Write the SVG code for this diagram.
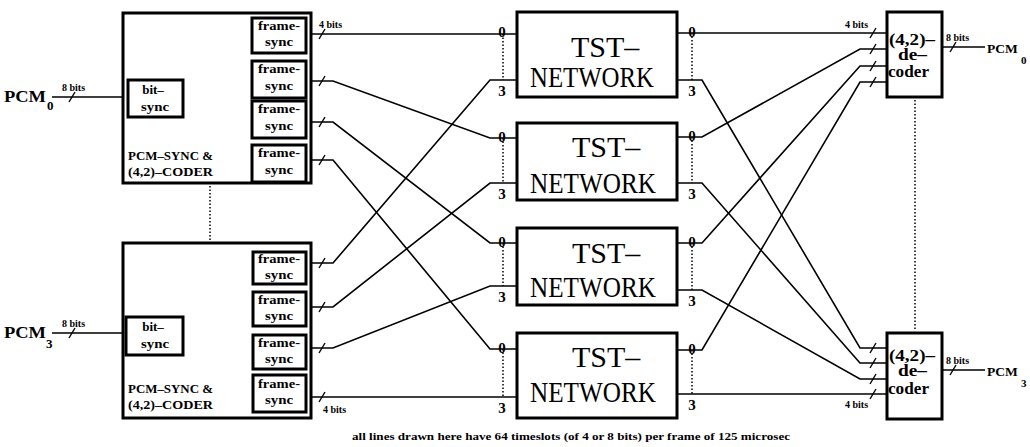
<svg xmlns="http://www.w3.org/2000/svg" width="1030" height="447" viewBox="0 0 1030 447">
<style>
.bx{fill:#fff;stroke:#000;stroke-width:3}
.w{fill:none;stroke:#000;stroke-width:1.6}
.dt{fill:none;stroke:#000;stroke-width:1.5;stroke-dasharray:1.5 2}
.sl{stroke:#000;stroke-width:1.4}
.t{font-family:"Liberation Serif",serif;font-weight:bold;fill:#000}
.s{font-size:10px}
.f{font-size:13px}
.m{font-size:13px}
.d{font-size:16px}
.n{font-size:15px}
.p{font-size:16px}
.po{font-size:13.5px}
.sub{font-size:11px}
.big{font-family:"Liberation Serif",serif;font-size:30px;fill:#000}
</style>
<rect width="1030" height="447" fill="#fff"/>

<g id="connectors">
  <path class="w" d="M52 97H128M183 97H226M226 33V160M226 33H252M226 81H252M226 122H252M226 160H252"/>
  <path class="w" d="M52 333H128M183 333H225M225 263V397M225 263H252M225 307H252M225 348H252M225 397H252"/>
  <path class="w" d="M306 34H517"/>
  <path class="w" d="M306 81H333L490 138H517"/>
  <path class="w" d="M306 122H333L490 243H517"/>
  <path class="w" d="M306 160H333L490 349H517"/>
  <path class="w" d="M306 263H333L490 80H517"/>
  <path class="w" d="M306 307H333L490 183H517"/>
  <path class="w" d="M306 348H333L490 286H517"/>
  <path class="w" d="M306 397H517"/>
  <path class="w" d="M677 33H887"/>
  <path class="w" d="M677 80H702L860 348H887"/>
  <path class="w" d="M677 137H702L860 49H887"/>
  <path class="w" d="M677 183H702L860 363H887"/>
  <path class="w" d="M677 243H702L860 66H887"/>
  <path class="w" d="M677 290H702L860 379H887"/>
  <path class="w" d="M677 350H702L860 82H887"/>
  <path class="w" d="M677 394H887"/>
  <path class="w" d="M942 47H985M942 370H985"/>
  <g class="sl">
    <line x1="69" y1="102" x2="75" y2="92"/>
    <line x1="194" y1="102" x2="200" y2="92"/>
    <line x1="69" y1="338" x2="75" y2="328"/>
    <line x1="194" y1="338" x2="200" y2="328"/>
    <line x1="319" y1="39" x2="325" y2="29"/>
    <line x1="319" y1="86" x2="325" y2="76"/>
    <line x1="319" y1="127" x2="325" y2="117"/>
    <line x1="319" y1="165" x2="325" y2="155"/>
    <line x1="319" y1="268" x2="325" y2="258"/>
    <line x1="319" y1="312" x2="325" y2="302"/>
    <line x1="319" y1="353" x2="325" y2="343"/>
    <line x1="319" y1="402" x2="325" y2="392"/>
    <line x1="870" y1="38" x2="876" y2="28"/>
    <line x1="870" y1="54" x2="876" y2="44"/>
    <line x1="870" y1="71" x2="876" y2="61"/>
    <line x1="870" y1="87" x2="876" y2="77"/>
    <line x1="870" y1="353" x2="876" y2="343"/>
    <line x1="870" y1="368" x2="876" y2="358"/>
    <line x1="870" y1="384" x2="876" y2="374"/>
    <line x1="870" y1="399" x2="876" y2="389"/>
    <line x1="950" y1="52" x2="956" y2="42"/>
    <line x1="950" y1="375" x2="956" y2="365"/>
  </g>
  <path class="dt" d="M210 186V241M915 100V330M503 34V80M503 138V183M503 243V286M503 349V397M692 33V80M692 137V183M692 243V290M692 350V394"/>
  <text class="t s" x="62" y="91">8 bits</text>
  <text class="t s" x="188" y="91">8 bits</text>
  <text class="t s" x="62" y="327">8 bits</text>
  <text class="t s" x="188" y="327">8 bits</text>
  <text class="t s" x="319" y="28">4 bits</text>
  <text class="t s" x="323" y="413">4 bits</text>
  <text class="t s" x="845" y="28">4 bits</text>
  <text class="t s" x="845" y="408">4 bits</text>
  <text class="t s" x="946" y="41">8 bits</text>
  <text class="t s" x="946" y="364">8 bits</text>
  <g class="t n" text-anchor="middle">
    <text x="502" y="37">0</text><text x="502" y="96">3</text>
    <text x="502" y="142">0</text><text x="502" y="199">3</text>
    <text x="502" y="247">0</text><text x="502" y="302">3</text>
    <text x="502" y="353">0</text><text x="502" y="413">3</text>
    <text x="692" y="37">0</text><text x="692" y="96">3</text>
    <text x="692" y="141">0</text><text x="692" y="199">3</text>
    <text x="692" y="247">0</text><text x="692" y="306">3</text>
    <text x="692" y="354">0</text><text x="692" y="410">3</text>
  </g>
</g>

<g id="pcm0-in">
  <text class="t p" x="4" y="102" textLength="42" lengthAdjust="spacingAndGlyphs">PCM</text>
  <text class="t f" x="47" y="110">0</text>
</g>
<g id="pcm3-in">
  <text class="t p" x="4" y="338" textLength="42" lengthAdjust="spacingAndGlyphs">PCM</text>
  <text class="t f" x="46" y="348">3</text>
</g>

<g id="coder0">
  <rect class="bx" x="123" y="13" width="188" height="170"/>
  <rect class="bx" x="128" y="80" width="55" height="37"/>
  <text class="t f" x="153" y="94" text-anchor="middle">bit–</text>
  <text class="t f" x="155" y="111" text-anchor="middle" textLength="28" lengthAdjust="spacingAndGlyphs">sync</text>
  <text class="t m" x="128" y="160" textLength="85" lengthAdjust="spacingAndGlyphs">PCM–SYNC &amp;</text>
  <text class="t m" x="128" y="176" textLength="85" lengthAdjust="spacingAndGlyphs">(4,2)–CODER</text>
</g>
<g id="fs0a"><rect class="bx" x="252" y="18" width="54" height="35"/><text class="t f" x="279" y="30" text-anchor="middle" textLength="42" lengthAdjust="spacingAndGlyphs">frame-</text><text class="t f" x="279" y="46" text-anchor="middle" textLength="28" lengthAdjust="spacingAndGlyphs">sync</text></g>
<g id="fs0b"><rect class="bx" x="252" y="61" width="54" height="37"/><text class="t f" x="279" y="73" text-anchor="middle" textLength="42" lengthAdjust="spacingAndGlyphs">frame-</text><text class="t f" x="279" y="90" text-anchor="middle" textLength="28" lengthAdjust="spacingAndGlyphs">sync</text></g>
<g id="fs0c"><rect class="bx" x="252" y="101" width="54" height="37"/><text class="t f" x="279" y="113" text-anchor="middle" textLength="42" lengthAdjust="spacingAndGlyphs">frame-</text><text class="t f" x="279" y="130" text-anchor="middle" textLength="28" lengthAdjust="spacingAndGlyphs">sync</text></g>
<g id="fs0d"><rect class="bx" x="252" y="145" width="54" height="37"/><text class="t f" x="279" y="157" text-anchor="middle" textLength="42" lengthAdjust="spacingAndGlyphs">frame-</text><text class="t f" x="279" y="174" text-anchor="middle" textLength="28" lengthAdjust="spacingAndGlyphs">sync</text></g>

<g id="coder3">
  <rect class="bx" x="123" y="243" width="188" height="175"/>
  <rect class="bx" x="126" y="317" width="57" height="38"/>
  <text class="t f" x="153" y="331" text-anchor="middle">bit–</text>
  <text class="t f" x="155" y="348" text-anchor="middle" textLength="28" lengthAdjust="spacingAndGlyphs">sync</text>
  <text class="t m" x="128" y="393" textLength="85" lengthAdjust="spacingAndGlyphs">PCM–SYNC &amp;</text>
  <text class="t m" x="128" y="409" textLength="85" lengthAdjust="spacingAndGlyphs">(4,2)–CODER</text>
</g>
<g id="fs3a"><rect class="bx" x="253" y="252" width="53" height="32"/><text class="t f" x="279" y="263" text-anchor="middle" textLength="42" lengthAdjust="spacingAndGlyphs">frame-</text><text class="t f" x="279" y="279" text-anchor="middle" textLength="28" lengthAdjust="spacingAndGlyphs">sync</text></g>
<g id="fs3b"><rect class="bx" x="253" y="292" width="53" height="34"/><text class="t f" x="279" y="304" text-anchor="middle" textLength="42" lengthAdjust="spacingAndGlyphs">frame-</text><text class="t f" x="279" y="320" text-anchor="middle" textLength="28" lengthAdjust="spacingAndGlyphs">sync</text></g>
<g id="fs3c"><rect class="bx" x="253" y="335" width="53" height="34"/><text class="t f" x="279" y="347" text-anchor="middle" textLength="42" lengthAdjust="spacingAndGlyphs">frame-</text><text class="t f" x="279" y="363" text-anchor="middle" textLength="28" lengthAdjust="spacingAndGlyphs">sync</text></g>
<g id="fs3d"><rect class="bx" x="253" y="375" width="53" height="37"/><text class="t f" x="279" y="388" text-anchor="middle" textLength="42" lengthAdjust="spacingAndGlyphs">frame-</text><text class="t f" x="279" y="404" text-anchor="middle" textLength="28" lengthAdjust="spacingAndGlyphs">sync</text></g>

<g id="tst0">
  <rect class="bx" x="517" y="12" width="160" height="85"/>
  <text class="big" x="571" y="57">TST–</text>
  <text class="big" x="530" y="87" textLength="124" lengthAdjust="spacingAndGlyphs">NETWORK</text>
</g>
<g id="tst1">
  <rect class="bx" x="517" y="123" width="160" height="77"/>
  <text class="big" x="572" y="157">TST–</text>
  <text class="big" x="530" y="193" textLength="126" lengthAdjust="spacingAndGlyphs">NETWORK</text>
</g>
<g id="tst2">
  <rect class="bx" x="517" y="228" width="160" height="77"/>
  <text class="big" x="572" y="263">TST–</text>
  <text class="big" x="530" y="297" textLength="126" lengthAdjust="spacingAndGlyphs">NETWORK</text>
</g>
<g id="tst3">
  <rect class="bx" x="517" y="333" width="160" height="85"/>
  <text class="big" x="572" y="367">TST–</text>
  <text class="big" x="530" y="402" textLength="126" lengthAdjust="spacingAndGlyphs">NETWORK</text>
</g>

<g id="decoder0">
  <rect class="bx" x="887" y="12" width="55" height="85"/>
  <text class="t d" x="889" y="45" textLength="46" lengthAdjust="spacingAndGlyphs">(4,2)–</text>
  <text class="t d" x="898" y="60" textLength="29" lengthAdjust="spacingAndGlyphs">de–</text>
  <text class="t d" x="888" y="77" textLength="41" lengthAdjust="spacingAndGlyphs">coder</text>
</g>
<g id="decoder3">
  <rect class="bx" x="887" y="333" width="55" height="86"/>
  <text class="t d" x="889" y="361" textLength="46" lengthAdjust="spacingAndGlyphs">(4,2)–</text>
  <text class="t d" x="898" y="376" textLength="29" lengthAdjust="spacingAndGlyphs">de–</text>
  <text class="t d" x="888" y="394" textLength="41" lengthAdjust="spacingAndGlyphs">coder</text>
</g>

<g id="pcm0-out">
  <text class="t po" x="987" y="53">PCM</text>
  <text class="t sub" x="1021" y="64">0</text>
</g>
<g id="pcm3-out">
  <text class="t po" x="987" y="376">PCM</text>
  <text class="t sub" x="1021" y="387">3</text>
</g>

<text class="t s" x="352" y="440" textLength="438" lengthAdjust="spacingAndGlyphs">all lines drawn here have 64 timeslots (of 4 or 8 bits) per frame of 125 microsec</text>
</svg>
